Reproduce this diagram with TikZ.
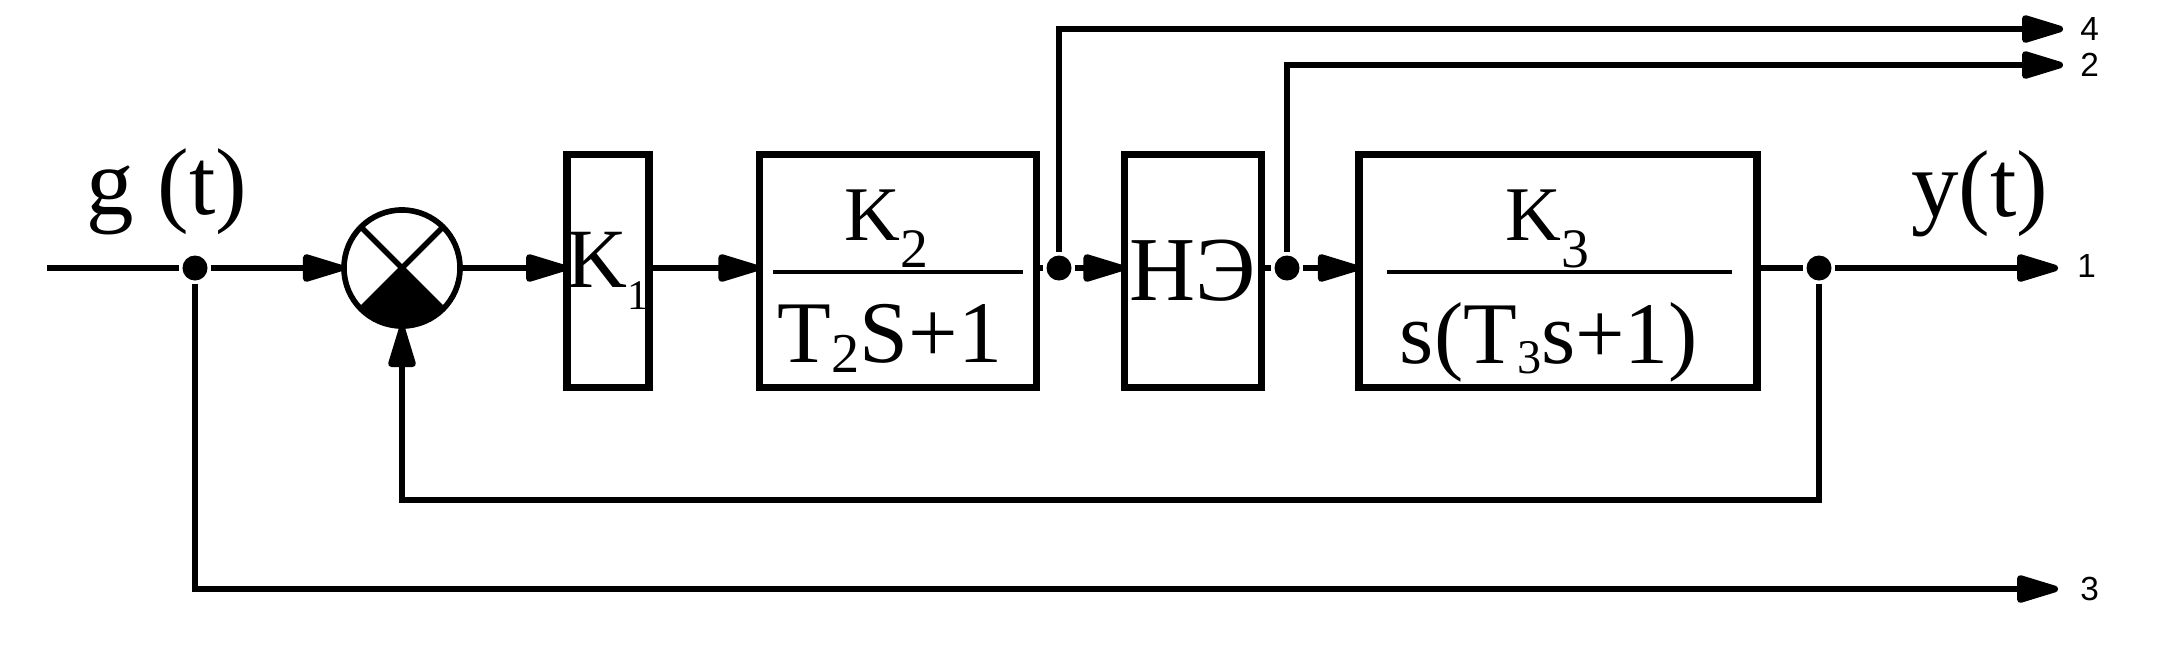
\documentclass[tikz,border=0pt]{standalone}
\usepackage{fontspec}
\setmainfont{Liberation Serif}
\newfontfamily\labfont{Liberation Sans}
\usepackage{graphicx}
\usetikzlibrary{arrows.meta}
\newcommand{\idx}[3]{\raisebox{-#1}{\scalebox{#2}{#3}}}
\tikzset{
  blk/.style={draw, line width=2.1pt, inner sep=0pt, outer sep=0pt},
  dot/.style={circle, fill, inner sep=0pt, minimum size=0.25cm},
  lab/.style={anchor=west, inner sep=0pt, font=\labfont\fontsize{9.5}{11}\selectfont},
  sigtxt/.style={anchor=base west, inner sep=0pt, font=\fontsize{27}{30}\selectfont},
  numtxt/.style={anchor=base, inner sep=0pt, font=\fontsize{22}{26}\selectfont},
  dentxt/.style={anchor=base, inner sep=0pt, font=\fontsize{25}{30}\selectfont},
}

\begin{document}
\begin{tikzpicture}[x=0.01cm, y=-0.01cm, line width=1.9pt, >={Triangle[length=5mm,width=2.8mm,round]}]
    \useasboundingbox (0,0) rectangle (2161,654);
    % blocks
    \node[blk, circle, line width=1.6pt, minimum size=1.16cm] (sum) at (402,268) {};
    \node[blk, minimum width=0.78cm, minimum height=2.33cm, font=\fontsize{24}{28}\selectfont] (K1) at (608,271) {K\idx{0.26em}{0.5}{1}};
    \node[blk, minimum width=2.77cm, minimum height=2.33cm] (K2) at (898,271) {};
    \node[blk, minimum width=1.37cm, minimum height=2.33cm, font=\fontsize{26}{30}\selectfont] (NE) at (1193,271) {НЭ};
    \node[blk, minimum width=3.98cm, minimum height=2.33cm] (K3) at (1558,271) {};
    % transfer functions
    \node[numtxt] (K2num) at (886,240) {K\idx{0.35em}{0.72}{2}};
    \draw[line width=1.3pt] (773,272) -- (1023,272);
    \node[dentxt] (K2den) at (890,362) {T\idx{0.12em}{0.64}{2}S+1};
    \node[numtxt] (K3num) at (1547,240) {K\idx{0.35em}{0.72}{3}};
    \draw[line width=1.3pt] (1387,272) -- (1732,272);
    \node[dentxt] (K3den) at (1549,363) {s(T\idx{0.12em}{0.55}{3}s+1)};
    % comparator
    \fill (sum.center) \foreach \a in {-135,-130,...,-45} { -- (sum.\a) } -- cycle;
    \draw[line width=1.6pt] (sum.135) -- (sum.-45) (sum.45) -- (sum.-135);
    % branch points and ends
    \coordinate (gin) at (47,268);
    \node[dot] (d1) at (195,268) {};
    \node[dot] (d2) at (1059,268) {};
    \node[dot] (d3) at (1287,268) {};
    \node[dot] (d4) at (1819,268) {};
    \coordinate (o4) at (2063,29);
    \coordinate (o2) at (2063,65);
    \coordinate (o1) at (2058,268);
    \coordinate (o3) at (2058,589);
    \coordinate (fb) at (402,500);
    % signals
    \node[sigtxt] (gt) at (83,214) {g (t)};
    \node[sigtxt] (yt) at (1908,216) {y(t)};
    \node[lab] (l4) at (2077,29) {4};
    \node[lab] (l2) at (2077,65) {2};
    \node[lab] (l1) at (2074,266) {1};
    \node[lab] (l3) at (2077,589) {3};
    % connections
    \draw (gin) -- (d1);
    \draw[->] (d1) -- (sum);
    \draw[->] (sum) -- (K1.west |- sum);
    \draw[->] (K1.east |- sum) -- (K2.west |- sum);
    \draw (K2.east |- sum) -- (d2);
    \draw[->] (d2) -- (NE.west |- sum);
    \draw (NE.east |- sum) -- (d3);
    \draw[->] (d3) -- (K3.west |- sum);
    \draw (K3.east |- sum) -- (d4);
    \draw[->] (d4) -- (o1);
    \draw[->] (d2) |- (o4);
    \draw[->] (d3) |- (o2);
    \draw[->] (d4) |- (fb) -- (sum);
    \draw[->] (d1) |- (o3);
\end{tikzpicture}
\end{document}
